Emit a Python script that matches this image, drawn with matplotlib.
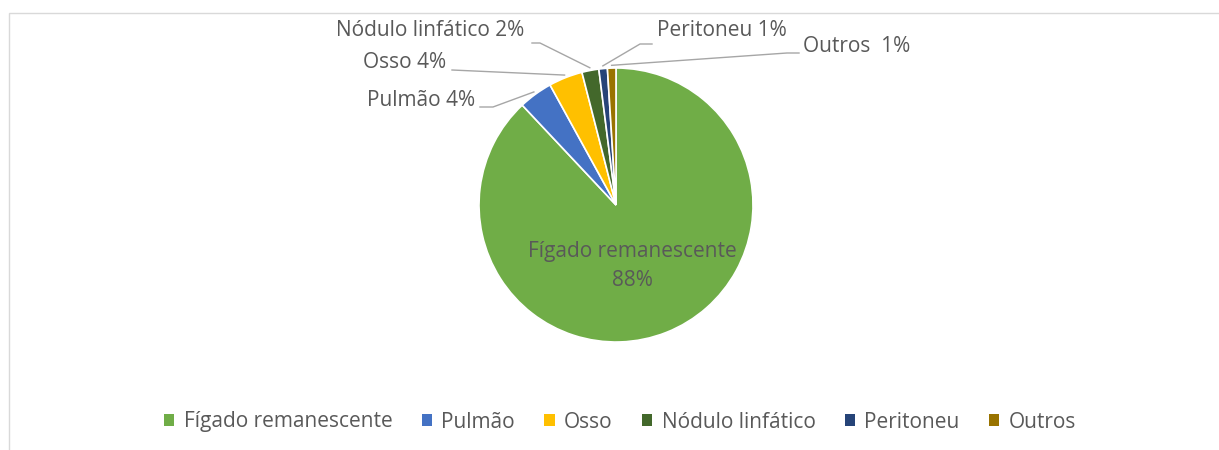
import numpy as np
import matplotlib
matplotlib.use("Agg")
import matplotlib.pyplot as plt
from matplotlib.patches import Rectangle

plt.rcParams['font.family'] = ['Open Sans', 'DejaVu Sans']

# dados
categorias = ['Fígado remanescente', 'Pulmão', 'Osso', 'Nódulo linfático', 'Peritoneu', 'Outros']
valores = [88, 4, 4, 2, 1, 1]
rotulos = ['Fígado remanescente\n88%', 'Pulmão 4%', 'Osso 4%', 'Nódulo linfático 2%', 'Peritoneu 1%', 'Outros  1%']
cores = ['#70AD47', '#4472C4', '#FFC000', '#43682B', '#264478', '#997300']

W, H = 1219, 450
fig = plt.figure(figsize=(W / 100, H / 100), dpi=100)

# moldura do gráfico (cortada à direita e em baixo)
fig.patches.append(Rectangle((9 / W, -0.2), 1.2, (H - 12.5) / H + 0.2, transform=fig.transFigure,
                             fill=False, edgecolor='#D9D9D9', linewidth=1.0))

cx, cy, r = 616, 205, 137  # em pixels (y a partir do topo)
ax = fig.add_axes([(cx - r) / W, (H - cy - r) / H, 2 * r / W, 2 * r / H])
wedges, _ = ax.pie(valores, colors=cores, startangle=90, counterclock=False,
                   wedgeprops=dict(edgecolor='white', linewidth=1.2))
ax.set_xlim(-1, 1)
ax.set_ylim(-1, 1)
ax.axis('off')


def px(x, y):
    return (x - cx) / r, (cy - y) / r


fs = 15
txt = dict(color='#595959', fontsize=fs)

# rótulo central
ax.text(*px(632, 266), rotulos[0], ha='center', va='center', linespacing=1.5, **txt)

# posições dos rótulos externos: (x, y, alinhamento, ponto inicial e cotovelo da linha)
pos = {
    1: (475, 100, 'right', [(480, 107), (493, 107)]),
    2: (446, 62, 'right', [(452, 70)]),
    3: (524, 31, 'right', [(532, 43), (540, 43)]),
    4: (657, 31, 'left', [(652, 44), (640, 44)]),
    5: (803, 46, 'left', [(799, 53), (787, 53)]),
}
for i, (x, y, ha, linha) in pos.items():
    ax.text(*px(x, y), rotulos[i], ha=ha, va='center', **txt)
    w = wedges[i]
    ang = np.deg2rad((w.theta1 + w.theta2) / 2)
    pts = [px(a, b) for a, b in linha] + [(1.02 * np.cos(ang), 1.02 * np.sin(ang))]
    xs, ys = zip(*pts)
    ax.plot(xs, ys, color='#A6A6A6', linewidth=1.0, clip_on=False)

leg = fig.legend(wedges, categorias, loc='center', bbox_to_anchor=(620 / W, 28 / H), ncol=6,
                 frameon=False, fontsize=fs, handlelength=0.5, handleheight=0.5,
                 handletextpad=0.45, columnspacing=1.4)
for t in leg.get_texts():
    t.set_color('#595959')
for h in leg.legend_handles:
    h.set_edgecolor('none')

fig.savefig('out.png', dpi=100)
